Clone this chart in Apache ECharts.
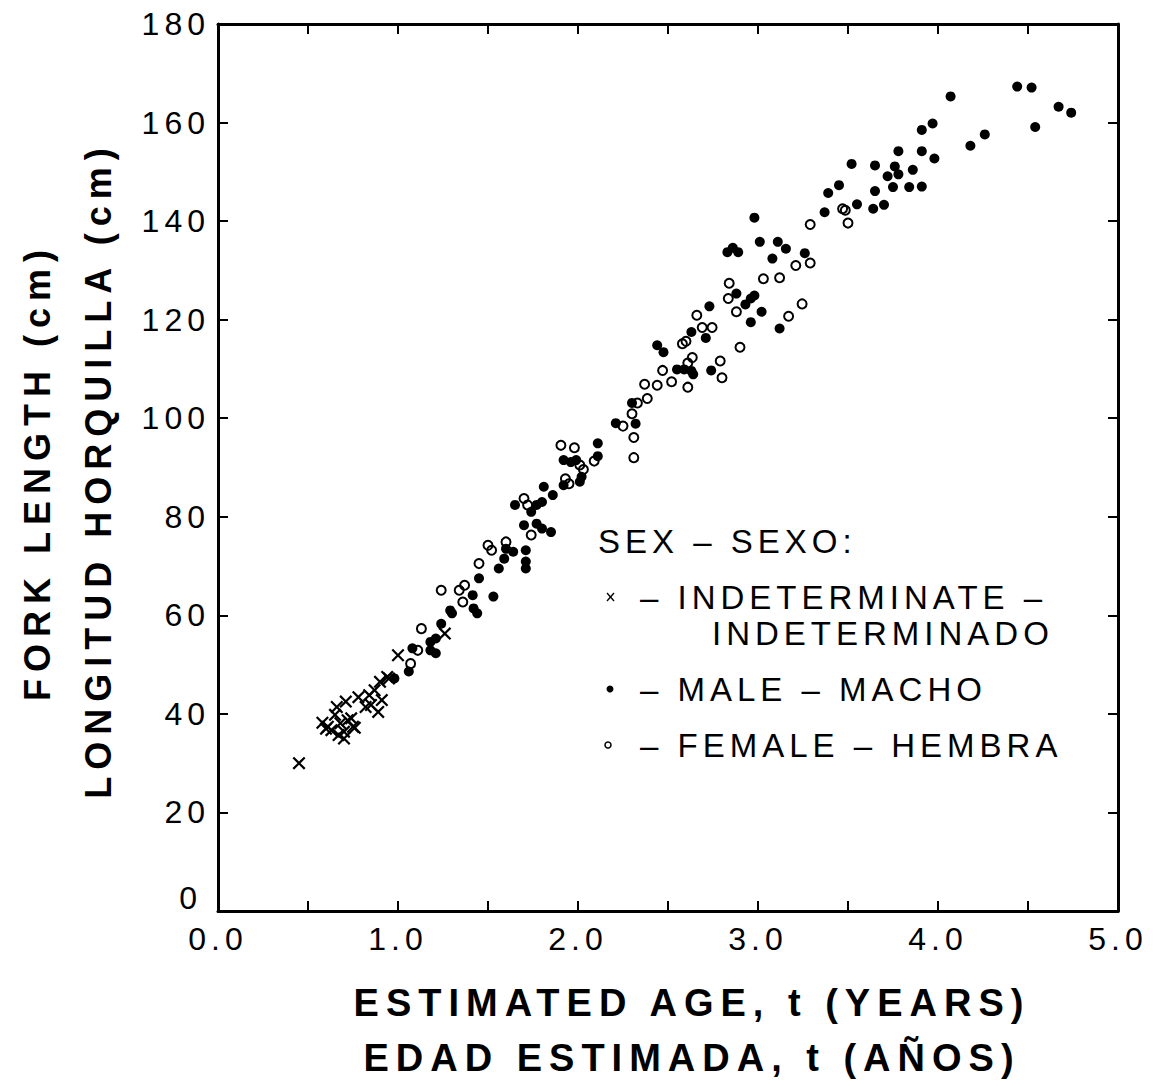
<!DOCTYPE html>
<html>
<head>
<meta charset="utf-8">
<script src="https://cdn.jsdelivr.net/npm/echarts@6/dist/echarts.min.js"></script>
<style>
html, body { margin: 0; padding: 0; background: #fff; }
#chart { width: 1160px; height: 1086px; }
#chart text { letter-spacing: 5px; }
#chart text[style*="bold"], #chart text[font-weight="bold"] { letter-spacing: 7px; }
</style>
</head>
<body>
<div id="chart"></div>
<script>
// [estimated age (years), fork length (cm)]
const indeterminate = [
  [0.45, 30.0], [0.58, 38.2], [0.60, 37.0], [0.61, 37.4], [0.63, 36.7], [0.65, 39.8],
  [0.66, 41.4], [0.67, 35.7], [0.68, 38.1], [0.70, 36.4], [0.70, 35.0], [0.71, 42.5],
  [0.72, 38.7], [0.74, 39.1], [0.75, 37.4], [0.76, 37.2], [0.78, 43.4], [0.82, 41.4],
  [0.84, 43.8], [0.85, 41.8], [0.87, 44.8], [0.89, 40.4], [0.90, 46.5], [0.91, 42.8],
  [0.94, 47.5], [0.95, 47.2], [1.00, 51.9], [1.26, 56.3]
];
const male = [
  [0.98, 47.2], [1.06, 48.6], [1.08, 53.3], [1.18, 52.9], [1.21, 52.3], [1.18, 54.6],
  [1.24, 58.3], [1.21, 55.3], [1.29, 61.0], [1.30, 60.4], [1.42, 61.4], [1.44, 60.4],
  [1.415, 64.1], [1.45, 67.5], [1.53, 63.8],
  [1.56, 69.5], [1.59, 71.5], [1.60, 73.5], [1.64, 72.9], [1.71, 73.2], [1.71, 70.9],
  [1.71, 69.5], [1.70, 78.3], [1.77, 78.6], [1.80, 77.6], [1.85, 76.9], [1.65, 82.4],
  [1.74, 81.0], [1.77, 82.4], [1.80, 83.0], [1.86, 84.4], [1.81, 86.1], [1.92, 86.4],
  [1.92, 91.5], [1.96, 91.1], [1.99, 91.5], [2.02, 88.1], [2.01, 87.1], [2.11, 94.9],
  [2.11, 92.3], [2.21, 99.0], [2.30, 103.1], [2.32, 98.9],
  [2.44, 114.8], [2.475, 113.4], [2.55, 109.9], [2.59, 109.9], [2.63, 109.6], [2.64, 108.9],
  [2.74, 109.7], [2.63, 117.5], [2.71, 116.3], [2.73, 122.7], [2.88, 125.3], [2.93, 123.1],
  [2.96, 124.3], [2.98, 124.9], [3.02, 121.6], [2.96, 119.5], [3.12, 118.2], [2.83, 133.7],
  [2.86, 134.6], [2.89, 133.7], [2.98, 140.7], [3.01, 135.8], [3.08, 132.4], [3.11, 135.8],
  [3.155, 134.4], [3.26, 133.5],
  [3.37, 141.8], [3.39, 145.7], [3.45, 147.3], [3.52, 151.6], [3.55, 143.4], [3.64, 142.5],
  [3.70, 143.3], [3.65, 146.1], [3.65, 151.3], [3.72, 149.1], [3.75, 146.9], [3.76, 151.1],
  [3.78, 149.5], [3.78, 154.2], [3.84, 146.9], [3.86, 150.4], [3.91, 147.0], [3.91, 154.2],
  [3.91, 158.5], [3.97, 159.8], [3.98, 152.7], [4.07, 165.3], [4.18, 155.3], [4.26, 157.6],
  [4.44, 167.3], [4.52, 167.1], [4.54, 159.1], [4.67, 163.2], [4.74, 162.0]
];
const female = [
  [1.07, 50.2], [1.11, 52.9], [1.13, 57.3], [1.24, 65.1], [1.34, 65.1], [1.37, 66.1],
  [1.36, 62.7], [1.45, 70.5], [1.50, 74.2], [1.52, 73.2], [1.60, 74.9], [1.74, 76.3],
  [1.70, 83.7], [1.72, 82.4], [1.905, 94.5], [1.98, 94.0], [1.93, 87.7], [1.95, 86.7],
  [2.01, 90.5], [2.03, 89.6], [2.09, 91.3], [2.25, 98.4], [2.30, 100.9], [2.33, 103.1],
  [2.385, 104.0], [2.31, 96.1], [2.31, 92.0], [2.37, 106.9], [2.44, 106.7], [2.52, 107.4],
  [2.61, 106.3], [2.47, 109.7], [2.58, 115.1], [2.60, 115.6], [2.61, 111.2], [2.635, 112.3],
  [2.66, 120.9], [2.69, 118.4], [2.745, 118.4], [2.79, 111.6], [2.80, 108.2], [2.84, 127.4],
  [2.835, 124.3], [2.88, 121.6], [2.90, 114.4], [3.03, 128.3], [3.12, 128.5], [3.17, 120.7],
  [3.245, 123.2], [3.21, 131.0], [3.29, 131.5], [3.29, 139.3], [3.47, 142.5], [3.485, 142.2],
  [3.50, 139.6]
];
const xTitle = ['ESTIMATED AGE, t (YEARS)', 'EDAD ESTIMADA, t (AÑOS)'];
const yTitle = ['FORK LENGTH (cm)', 'LONGITUD HORQUILLA (cm)'];
const legendTitle = 'SEX – SEXO:';
const legendRows = ['– INDETERMINATE –', 'INDETERMINADO', '– MALE – MACHO', '– FEMALE – HEMBRA'];

const FONT = '"Liberation Sans", Arial, Helvetica, sans-serif';
const crossPath = 'path://M1.2,0 L5,3.8 L8.8,0 L10,1.2 L6.2,5 L10,8.8 L8.8,10 L5,6.2 L1.2,10 L0,8.8 L3.8,5 L0,1.2 Z';

const chart = echarts.init(document.getElementById('chart'), null, { renderer: 'svg' });

function axisBase() {
  return {
    min: 0,
    axisLine: { show: true, onZero: false, lineStyle: { color: '#000', width: 3 } },
    axisTick: { show: true, inside: true, length: 10, lineStyle: { color: '#000', width: 2 } },
    splitLine: { show: false }
  };
}

function txt(x, y, text, font, align, rot) {
  return {
    type: 'text', x: x, y: y, rotation: rot || 0,
    style: { text: text, x: 0, y: 0, align: align, verticalAlign: 'middle', font: font, fill: '#000' }
  };
}

const TITLE_FONT_X = 'bold 38px ' + FONT;
const TITLE_FONT_Y = 'bold 36px ' + FONT;
const LEG_FONT = '33px ' + FONT;

const option = {
  animation: false,
  backgroundColor: '#fff',
  grid: { left: 218, right: 42, top: 24, bottom: 175, containLabel: false },
  xAxis: [
    Object.assign(axisBase(), {
      type: 'value', position: 'bottom', max: 5, interval: 0.5,
      axisLabel: {
        show: true, margin: 12, color: '#000', fontSize: 32, fontFamily: FONT,
        formatter: v => (Math.abs(v - Math.round(v)) < 1e-9 ? v.toFixed(1) : '')
      }
    }),
    Object.assign(axisBase(), {
      type: 'value', position: 'top', max: 5, interval: 0.5,
      axisLabel: { show: false }
    })
  ],
  yAxis: [
    Object.assign(axisBase(), {
      type: 'value', position: 'left', max: 180, interval: 20,
      axisLabel: {
        show: true, margin: 8, color: '#000', fontSize: 32, fontFamily: FONT,
        formatter: v => (v === 0 ? '{z|0}' : String(v)),
        rich: { z: { fontSize: 32, fontFamily: FONT, color: '#000', padding: [0, 8, 26, 0] } }
      }
    }),
    Object.assign(axisBase(), {
      type: 'value', position: 'right', max: 180, interval: 20,
      axisLabel: { show: false }
    })
  ],
  series: [
    {
      name: 'INDETERMINATE', type: 'scatter', data: indeterminate,
      symbol: crossPath, symbolSize: 13,
      itemStyle: { color: '#000', opacity: 1 }
    },
    {
      name: 'MALE', type: 'scatter', data: male,
      symbol: 'circle', symbolSize: 10,
      itemStyle: { color: '#000', opacity: 1 }
    },
    {
      name: 'FEMALE', type: 'scatter', data: female,
      symbol: 'circle', symbolSize: 9,
      itemStyle: { color: 'rgba(0,0,0,0)', borderColor: '#000', borderWidth: 2, opacity: 1 }
    }
  ],
  graphic: [
    txt(37, 472, yTitle[0], TITLE_FONT_Y, 'center', Math.PI / 2),
    txt(98, 470, yTitle[1], TITLE_FONT_Y, 'center', Math.PI / 2),
    txt(692, 1003, xTitle[0], TITLE_FONT_X, 'center'),
    txt(692, 1058, xTitle[1], TITLE_FONT_X, 'center'),
    txt(598, 541, legendTitle, LEG_FONT, 'left'),
    { type: 'line', shape: { x1: 607, y1: 593, x2: 614, y2: 601 }, style: { stroke: '#000', lineWidth: 1.3 } },
    { type: 'line', shape: { x1: 614, y1: 593, x2: 607, y2: 601 }, style: { stroke: '#000', lineWidth: 1.3 } },
    txt(640, 597, legendRows[0], LEG_FONT, 'left'),
    txt(712, 633, legendRows[1], LEG_FONT, 'left'),
    { type: 'circle', shape: { cx: 610, cy: 689, r: 3.5 }, style: { fill: '#000' } },
    txt(640, 689, legendRows[2], LEG_FONT, 'left'),
    { type: 'circle', shape: { cx: 608, cy: 745, r: 3 }, style: { fill: 'none', stroke: '#000', lineWidth: 1.5 } },
    txt(640, 745, legendRows[3], LEG_FONT, 'left')
  ]
};
chart.setOption(option);
</script>
</body>
</html>
